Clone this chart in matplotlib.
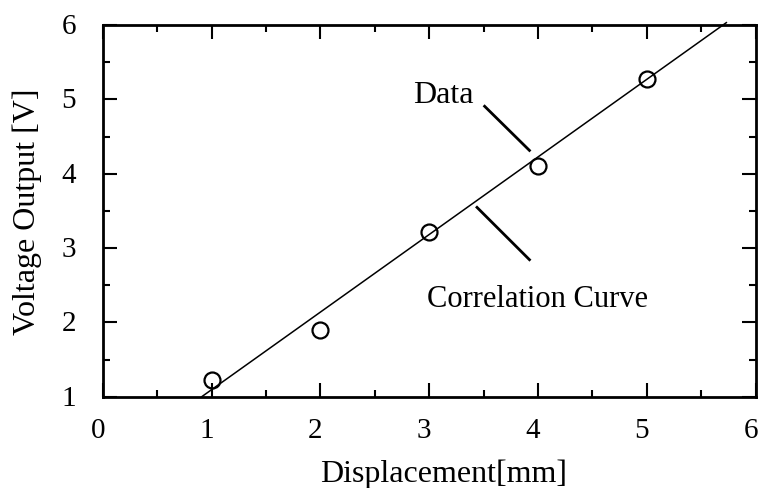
import numpy as np
import matplotlib
matplotlib.use("Agg")
from matplotlib import pyplot as plt
from matplotlib.ticker import MultipleLocator
from matplotlib.transforms import ScaledTranslation

# measured points
displacement = [1.0, 2.0, 3.0, 4.0, 5.0]
voltage = [1.22, 1.90, 3.22, 4.11, 5.28]

# correlation curve (straight line fit)
fit_slope = 1.044
fit_intercept = 0.05
fit_x = [0.91, 5.73]

# leader lines for the two labels
data_leader_x = [3.50, 3.93]
data_leader_y = [4.92, 4.30]
curve_leader_x = [3.43, 3.93]
curve_leader_y = [3.56, 2.83]

plt.rcParams['font.family'] = ['Liberation Serif', 'DejaVu Serif']

fig = plt.figure(figsize=(7.59, 4.89), dpi=100)
ax = fig.add_axes([0.1353, 0.1867, 0.8604, 0.7601])

xs = np.array(fit_x)
ax.plot(xs, fit_slope * xs + fit_intercept, color='black', lw=1.1, clip_on=False, zorder=2)
ax.plot(displacement, voltage, 'o', mfc='none', mec='black', ms=11.5, mew=1.6, zorder=3)

ax.plot(data_leader_x, data_leader_y, color='black', lw=2.0, solid_capstyle='butt')
ax.plot(curve_leader_x, curve_leader_y, color='black', lw=2.0, solid_capstyle='butt')
ax.text(2.85, 4.96, "Data", fontsize=23, ha='left', va='baseline')
ax.text(2.98, 2.225, "Correlation Curve", fontsize=22, ha='left', va='baseline')

ax.set_xlim(0, 6)
ax.set_ylim(1, 6)
ax.xaxis.set_major_locator(MultipleLocator(1))
ax.xaxis.set_minor_locator(MultipleLocator(0.5))
ax.yaxis.set_major_locator(MultipleLocator(1))
ax.yaxis.set_minor_locator(MultipleLocator(0.5))
ax.tick_params(which='both', direction='in', top=True, right=True, width=1.5, labelsize=21)
ax.tick_params(which='major', length=10)
ax.tick_params(which='minor', length=5)
ax.tick_params(axis='x', which='major', pad=14.5)
ax.tick_params(axis='y', which='major', pad=19)
for s in ax.spines.values():
    s.set_linewidth(2)

# the original tick numbers sit a little left of / above their ticks
xshift = ScaledTranslation(-5 / 100, 0, fig.dpi_scale_trans)
yshift = ScaledTranslation(0, 2 / 100, fig.dpi_scale_trans)
for lab in ax.get_xticklabels():
    lab.set_transform(lab.get_transform() + xshift)
for lab in ax.get_yticklabels():
    lab.set_transform(lab.get_transform() + yshift)

ax.set_xlabel("Displacement[mm]", fontsize=23, va='top')
ax.xaxis.set_label_coords(0.522, -0.165)
ax.set_ylabel("Voltage Output [V]", fontsize=23)
ax.yaxis.set_label_coords(-0.093, 0.5)

fig.savefig("out.png", dpi=100)
